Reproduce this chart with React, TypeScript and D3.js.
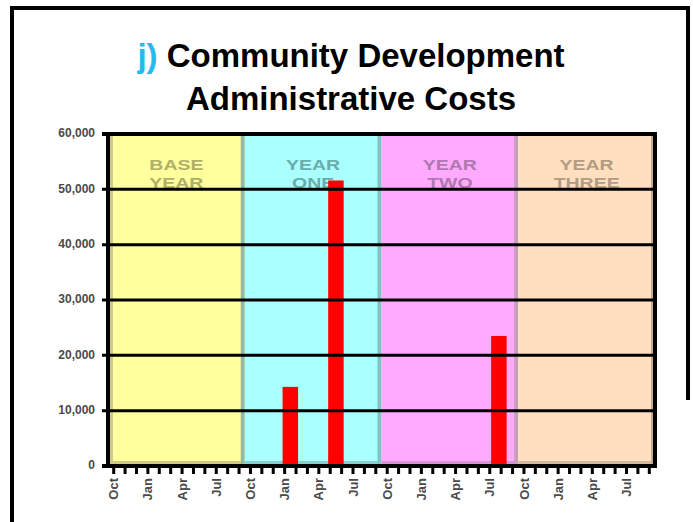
import React from "react";
import * as d3 from "d3";

const monthNames = ["Oct", "Nov", "Dec", "Jan", "Feb", "Mar", "Apr", "May", "Jun", "Jul", "Aug", "Sep"];
const yearLabels = [["BASE", "YEAR"], ["YEAR", "ONE"], ["YEAR", "TWO"], ["YEAR", "THREE"]];
const bandColors = ["#ffff9e", "#aaffff", "#ffaaff", "#ffdfbf"];
const bandEdgeColors = ["#93b9a3", "#7fc2c2", "#c4a0b4", "#c2a88e"];
const bandBottomColors = ["#d2ca86", "#8ccfcf", "#d696d6", "#d6baa0"];
const bandTextColors = ["#b0b068", "#6aadad", "#b078b0", "#b29c82"];
const yTicks = [0, 10000, 20000, 30000, 40000, 50000, 60000];
const barMonths = [15.5, 19.5, 33.8];
const barValues = [14300, 51600, 23500];

const W = 693;
const H = 522;
const left = 108;
const right = 655;
const top = 134;
const bottom = 466;
const nMonths = 48;

export default function App() {
  const x = d3.scaleLinear().domain([-0.5, nMonths - 0.5]).range([left, right]);
  const y = d3.scaleLinear().domain([0, 60000]).range([bottom, top]);
  const monthIdx = d3.range(nMonths);
  const barW = 15.5;
  const font = "'Liberation Sans', Arial, sans-serif";

  return (
    <div style={{ position: "fixed", left: 0, top: 0 }}>
      <svg width={W} height={H} style={{ display: "block", background: "#fff" }}>
        {/* outer frame */}
        <rect x={10} y={6} width={680} height={4} fill="#000" />
        <rect x={10} y={6} width={4} height={H} fill="#000" />
        <rect x={686} y={6} width={4} height={394} fill="#000" />

        {/* title */}
        <text x={351} y={67} textAnchor="middle" fontFamily={font} fontWeight="bold" fontSize={33} fill="#000">
          <tspan fill="#22bbee">j)</tspan> Community Development
        </text>
        <text x={351} y={110} textAnchor="middle" fontFamily={font} fontWeight="bold" fontSize={33} fill="#000">
          Administrative Costs
        </text>

        {/* bands */}
        {yearLabels.map((lab, i) => {
          const x0 = x(i * 12 - 0.5);
          const x1 = x(i * 12 + 11.5);
          const cx = (x0 + x1) / 2;
          return (
            <g key={i}>
              <rect x={x0} y={top} width={x1 - x0} height={bottom - top} fill={bandColors[i]} />
              <rect x={x0} y={bottom - 5} width={x1 - x0} height={5} fill={bandBottomColors[i]} />
              {i === 0 && <rect x={x0} y={top} width={5} height={bottom - top} fill={bandBottomColors[0]} />}
              <rect x={x1 - 4} y={top} width={4} height={bottom - top} fill={bandEdgeColors[i]} />
              {lab.map((t, j) => (
                <text
                  key={j}
                  transform={`translate(${cx},${170 + j * 18}) scale(1.3,1)`}
                  textAnchor="middle"
                  fontFamily={font}
                  fontWeight="bold"
                  fontSize={15}
                  fill={bandTextColors[i]}
                >
                  {t}
                </text>
              ))}
            </g>
          );
        })}

        {/* bars */}
        {barMonths.map((m, i) => (
          <rect key={i} x={x(m) - barW / 2} y={y(barValues[i])} width={barW} height={bottom - y(barValues[i])} fill="#ff0000" />
        ))}

        {/* gridlines and y labels */}
        {yTicks.map((v) => (
          <g key={v}>
            <line x1={left - 6} x2={right} y1={y(v)} y2={y(v)} stroke="#000" strokeWidth={v === 0 || v === 60000 ? 4 : 3} />
            <text x={95} y={y(v) - 1} dy="0.35em" textAnchor="end" fontFamily={font} fontWeight="bold" fontSize={12} fill="#4a4a4a">
              {d3.format(",")(v)}
            </text>
          </g>
        ))}

        {/* axes */}
        <line x1={left} x2={left} y1={top - 2} y2={bottom + 2} stroke="#000" strokeWidth={4} />
        <line x1={right} x2={right} y1={top - 2} y2={bottom + 2} stroke="#000" strokeWidth={4} />

        {/* x ticks and labels */}
        {monthIdx.map((k) => (
          <rect key={k} x={x(k) - 1.5} y={bottom} width={3} height={8} fill="#000" />
        ))}
        {monthIdx.filter((k) => k % 3 === 0).map((k) => (
          <text
            key={k}
            transform={`translate(${x(k)},478) rotate(-90)`}
            textAnchor="end"
            dy="0.35em"
            fontFamily={font}
            fontWeight="bold"
            fontSize={13}
            fill="#4a4a4a"
          >
            {monthNames[k % 12]}
          </text>
        ))}
      </svg>
    </div>
  );
}
